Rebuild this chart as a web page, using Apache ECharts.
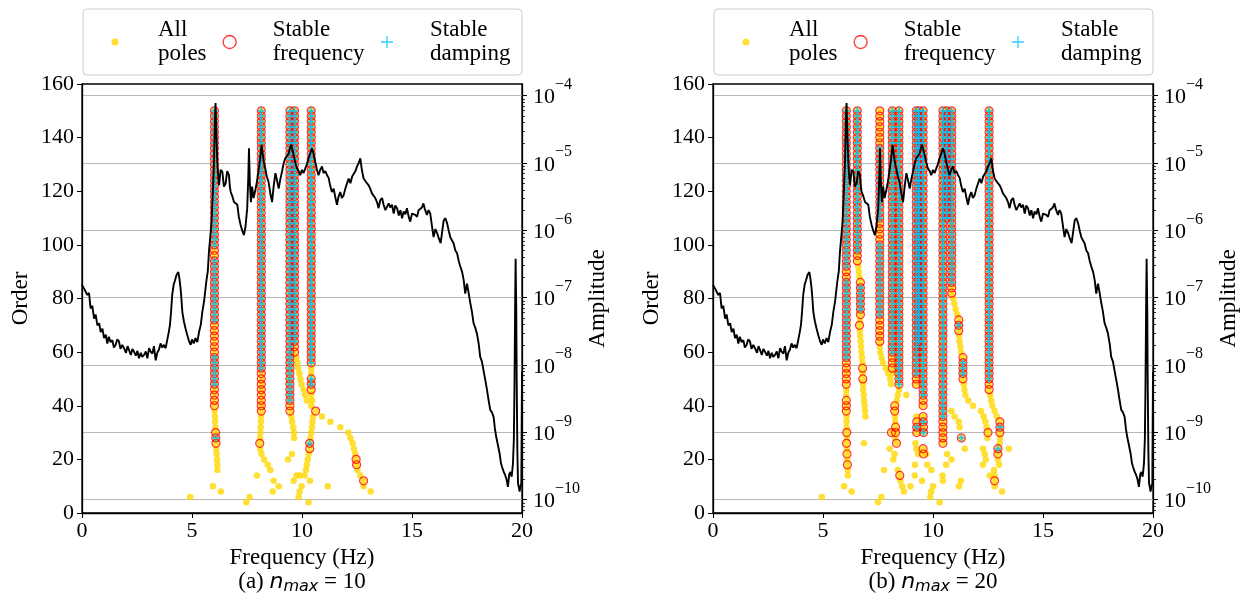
<!DOCTYPE html>
<html>
<head>
<meta charset="utf-8">
<script src="https://cdn.jsdelivr.net/npm/echarts@6/dist/echarts.min.js"></script>
<style>
  html, body { margin: 0; padding: 0; background: #fff; }
  #main { width: 1246px; height: 595px; }
</style>
</head>
<body>
<div id="main"></div>
<script>
// amplitude spectrum (shared by both panels): frequency in Hz, log10 of amplitude
var specFreq = [0.00,0.12,0.24,0.32,0.39,0.47,0.55,0.62,0.70,0.78,0.85,0.93,1.00,1.08,1.15,1.22,1.30,1.38,1.45,1.53,
  1.60,1.68,1.75,1.83,1.91,2.00,2.07,2.14,2.22,2.29,2.36,2.45,2.52,2.59,2.67,2.74,2.82,2.90,2.97,3.05,
  3.12,3.20,3.27,3.35,3.42,3.50,3.57,3.65,3.72,3.80,3.88,3.95,4.00,4.05,4.10,4.17,4.23,4.30,4.38,4.43,
  4.48,4.52,4.56,4.63,4.71,4.78,4.86,4.94,5.00,5.08,5.16,5.24,5.32,5.40,5.47,5.55,5.65,5.72,5.77,5.83,
  5.89,5.95,6.00,6.04,6.07,6.11,6.15,6.19,6.23,6.30,6.38,6.45,6.53,6.60,6.68,6.72,6.76,6.84,6.91,6.98,
  7.06,7.13,7.21,7.28,7.36,7.43,7.51,7.56,7.59,7.63,7.68,7.73,7.80,7.88,7.95,8.02,8.10,8.16,8.21,8.27,
  8.33,8.40,8.48,8.56,8.64,8.71,8.79,8.86,8.94,9.01,9.09,9.17,9.24,9.32,9.39,9.45,9.50,9.56,9.62,9.70,
  9.77,9.85,9.92,10.00,10.07,10.15,10.22,10.30,10.38,10.45,10.52,10.60,10.68,10.75,10.83,10.91,10.98,11.06,11.14,11.21,
  11.29,11.36,11.44,11.51,11.59,11.66,11.74,11.81,11.89,11.97,12.05,12.12,12.20,12.28,12.35,12.43,12.50,12.58,12.65,12.72,
  12.80,12.88,12.95,13.03,13.10,13.18,13.26,13.33,13.41,13.48,13.56,13.64,13.71,13.79,13.86,13.94,14.01,14.09,14.17,14.24,
  14.32,14.40,14.47,14.55,14.62,14.70,14.77,14.85,14.92,15.00,15.07,15.15,15.23,15.30,15.38,15.45,15.52,15.58,15.68,15.75,
  15.83,15.90,15.98,16.06,16.14,16.22,16.30,16.36,16.44,16.52,16.60,16.68,16.74,16.82,16.89,16.97,17.05,17.12,17.20,17.28,
  17.35,17.42,17.50,17.57,17.65,17.72,17.80,17.88,17.95,18.03,18.10,18.18,18.25,18.33,18.41,18.48,18.56,18.63,18.71,18.77,
  18.83,18.90,18.98,19.04,19.09,19.16,19.24,19.30,19.36,19.42,19.47,19.53,19.59,19.63,19.66,19.69,19.71,19.74,19.76,19.79,
  19.82,19.86,19.89,19.93,19.97,20.00];
var specLogAmp = [-6.81,-6.88,-6.96,-6.93,-7.16,-7.12,-7.31,-7.25,-7.41,-7.38,-7.51,-7.46,-7.60,-7.55,-7.68,-7.58,-7.66,-7.63,-7.74,-7.70,
  -7.62,-7.65,-7.76,-7.70,-7.75,-7.82,-7.72,-7.78,-7.85,-7.76,-7.80,-7.86,-7.79,-7.90,-7.82,-7.88,-7.85,-7.80,-7.90,-7.75,
  -7.80,-7.83,-7.72,-7.93,-7.82,-7.77,-7.68,-7.74,-7.70,-7.75,-7.62,-7.50,-7.40,-7.20,-6.96,-6.80,-6.74,-6.66,-6.62,-6.72,
  -6.86,-7.02,-7.21,-7.35,-7.46,-7.55,-7.64,-7.70,-7.62,-7.68,-7.60,-7.66,-7.51,-7.40,-7.21,-7.05,-6.76,-6.60,-6.32,-6.10,
  -5.87,-5.40,-4.98,-4.40,-4.11,-4.60,-4.98,-5.20,-5.33,-5.10,-5.13,-5.35,-5.30,-5.12,-5.18,-5.35,-5.43,-5.50,-5.58,-5.56,
  -5.62,-5.80,-5.92,-6.00,-6.07,-5.95,-5.67,-5.20,-4.78,-5.30,-5.58,-5.35,-5.52,-5.40,-5.28,-5.12,-4.93,-4.73,-4.85,-5.00,
  -5.08,-5.20,-5.28,-5.45,-5.58,-5.35,-5.15,-5.25,-5.38,-5.25,-5.13,-5.00,-4.93,-4.92,-4.86,-4.78,-4.73,-4.80,-4.88,-5.00,
  -5.08,-5.12,-5.18,-5.10,-5.15,-5.08,-5.02,-4.93,-4.85,-4.78,-4.85,-4.98,-5.10,-5.18,-5.10,-5.05,-5.15,-5.12,-5.18,-5.22,
  -5.35,-5.43,-5.38,-5.50,-5.62,-5.50,-5.43,-5.52,-5.48,-5.38,-5.30,-5.23,-5.30,-5.20,-5.18,-5.12,-5.05,-5.00,-4.93,-5.10,
  -5.23,-5.25,-5.30,-5.33,-5.38,-5.45,-5.43,-5.52,-5.58,-5.67,-5.55,-5.52,-5.62,-5.70,-5.72,-5.60,-5.66,-5.62,-5.75,-5.63,
  -5.67,-5.78,-5.70,-5.82,-5.72,-5.76,-5.67,-5.80,-5.87,-5.75,-5.75,-5.77,-5.80,-5.70,-5.72,-5.66,-5.60,-5.68,-5.77,-5.70,
  -5.75,-5.92,-6.10,-5.98,-6.04,-6.12,-6.19,-6.05,-5.85,-5.82,-5.90,-6.02,-6.10,-6.15,-6.19,-6.30,-6.34,-6.45,-6.54,-6.62,
  -6.74,-6.94,-6.79,-6.92,-7.08,-7.20,-7.38,-7.45,-7.53,-7.68,-7.88,-7.95,-8.08,-8.22,-8.37,-8.52,-8.67,-8.70,-8.77,-8.95,
  -9.07,-9.18,-9.31,-9.45,-9.51,-9.58,-9.64,-9.70,-9.81,-9.62,-9.59,-9.66,-9.46,-9.10,-8.27,-7.00,-6.42,-7.20,-8.27,-9.30,
  -9.76,-9.82,-9.88,-9.80,-9.76,-8.10];

// stabilization diagram, panel (a) n_max = 10
// runs: [frequency, first order, last order], one pole at every order step in between
var allRunsA = [[6.02,40,150],[8.15,38,150],[9.45,38,150],[9.66,60,150],[10.42,44,150]];
var allPointsA = [
  [6.03,38],[6.04,36],[6.05,34],[6.06,32],[6.07,30],[6.08,28],[6.09,26],[6.10,24],[6.12,22],[6.14,20],[6.15,18],[6.16,16],
  [5.95,10],[6.31,8],[4.92,6],
  [8.14,36],[8.13,34],[8.12,32],[8.11,30],[8.10,28],[8.08,26],[8.10,24],[8.16,22],[8.28,20],[8.44,18],[8.56,16],[7.95,14],
  [8.71,12],[8.94,10],[8.67,8],[7.62,6],[7.47,4],
  [9.52,36],[9.55,34],[9.60,32],[9.63,30],[9.64,28],[9.54,22],[9.36,20],[9.75,14],[9.90,14],[9.62,12],[10.36,12],[9.98,10],
  [9.89,8],[9.85,6],[10.30,4],
  [9.74,58],[9.78,56],[9.82,54],[9.88,52],[9.93,50],[9.98,48],[10.07,46],[10.14,44],[10.22,42],[10.42,40],[10.62,38],
  [10.91,36],[11.29,34],[11.74,32],[12.10,30],[12.20,28],[12.30,26],[12.36,24],[12.42,22],[12.46,20],[12.48,18],[12.52,16],
  [12.65,14],[12.80,12],[12.80,10],[13.12,8],
  [10.46,42],[10.50,36],[10.48,34],[10.45,32],[10.42,30],[10.38,28],[10.35,26],[10.35,24],[10.30,22],[10.26,20],[10.22,18],
  [10.18,16],[10.12,14],[11.17,10]
];
var freqRunsA = [[6.02,40,150],[8.15,38,150],[9.45,38,150],[9.66,60,150],[10.42,56,150],[10.42,46,50]];
var freqPointsA = [[6.07,30],[6.08,28],[6.09,26],[8.08,26],[10.62,38],[10.35,26],[10.35,24],[12.46,20],[12.48,18],[12.80,12]];
var dampRunsA = [[6.02,100,150],[6.02,72,94],[6.02,48,58],[8.15,54,150],[9.45,42,150],[9.66,64,150],[10.42,56,150],[10.42,48,50]];
var dampPointsA = [[6.08,28],[10.35,26]];

// stabilization diagram, panel (b) n_max = 20
var allRunsB = [[6.06,38,150],[6.56,94,150],[6.70,74,86],[7.58,62,150],[8.15,52,150],[8.45,46,150],[9.24,48,150],
  [9.36,60,150],[9.55,40,150],[10.45,26,150],[10.62,110,150],[10.85,82,150],[11.17,68,72],[11.36,50,58],[12.55,46,150]];
var allPointsB = [
  [6.07,36],[6.07,34],[6.07,32],[6.08,30],[6.08,28],[6.07,26],[6.08,24],[6.09,22],[6.10,20],[6.11,18],[6.12,16],[6.13,14],
  [5.96,10],[6.30,8],[4.94,6],
  [6.60,92],[6.63,90],[6.66,88],[6.68,72],[6.66,70],[6.67,68],[6.69,66],[6.71,64],[6.73,62],[6.75,60],[6.77,58],[6.79,56],
  [6.80,54],[6.80,52],[6.81,50],[6.82,48],[6.83,46],[6.85,44],[6.87,42],[6.89,40],[6.91,38],[6.93,36],[6.86,26],
  [7.61,60],[7.66,58],[7.73,56],[7.85,54],[7.96,52],[8.05,50],[8.10,48],
  [8.40,44],[8.35,42],[8.26,40],[8.26,38],[8.27,36],[8.28,34],[8.30,32],[8.11,30],[8.30,30],[8.28,28],[8.34,26],[8.03,24],
  [8.25,22],[8.20,20],[8.40,16],[8.49,14],[8.52,12],[8.60,10],[8.68,8],[8.79,44],[7.77,16],[7.65,6],[7.50,4],[8.97,10],[9.17,14],
  [9.25,36],[9.26,34],[9.26,32],[9.26,30],[9.55,36],[9.56,34],[9.57,32],[9.57,30],[9.20,26],[9.24,24],[9.32,22],[9.18,18],
  [9.50,12],[9.55,24],[9.57,22],[9.70,22],[9.74,18],[9.93,16],[10.00,10],[9.92,8],[9.88,6],[10.30,4],
  [10.43,14],[10.45,12],[10.64,22],[10.84,20],[10.60,18],
  [10.92,80],[10.97,78],[11.03,76],[11.10,74],[11.19,66],[11.21,64],[11.24,62],[11.28,60],[11.40,48],[11.43,46],[11.47,44],
  [11.60,42],[11.82,40],[12.18,38],[12.30,36],[12.38,34],[12.44,32],[12.50,30],[12.47,28],[12.27,24],[12.35,22],[12.40,20],
  [12.27,18],[12.77,16],[12.58,14],
  [10.84,38],[10.98,36],[11.17,34],[11.21,32],[11.29,28],[11.44,24],[11.18,10],[11.27,12],
  [12.60,44],[12.64,42],[12.70,40],[12.80,38],[12.90,36],[13.04,34],[13.04,32],[13.04,30],[13.05,28],[13.03,26],[12.95,24],
  [12.95,22],[12.95,20],[13.00,18],[12.80,14],[12.80,12],[12.80,10],[13.14,8],[13.45,24]
];
var freqRunsB = [[6.06,48,150],[6.06,38,42],[6.56,94,150],[6.70,74,86],[7.58,64,150],[8.15,54,150],[8.45,48,150],
  [9.24,48,150],[9.36,60,150],[9.55,40,150],[10.45,26,150],[10.62,110,150],[10.85,82,150],[11.17,68,72],[11.36,50,58],[12.55,46,150]];
var freqPointsB = [[6.08,30],[6.07,26],[6.09,22],[6.11,18],[6.66,70],[6.80,54],[6.81,50],[8.26,40],[8.26,38],[8.30,32],
  [8.11,30],[8.30,30],[8.34,26],[8.49,14],[9.26,34],[9.26,32],[9.26,30],[9.55,36],[9.56,34],[9.57,32],[9.57,30],[9.55,24],
  [9.57,22],[11.29,28],[12.50,30],[13.04,34],[13.04,32],[13.04,30],[12.95,24],[12.95,22],[12.80,12]];
var dampRunsB = [[6.06,92,150],[6.06,58,86],[6.56,98,150],[6.70,76,84],[7.58,110,136],[7.58,74,100],[8.15,60,150],
  [8.45,48,150],[9.24,52,150],[9.36,64,150],[9.55,44,150],[10.45,36,150],[10.62,110,150],[10.85,86,150],[11.36,52,56],[12.55,50,150]];
var dampPointsB = [[11.17,70],[9.26,32],[9.56,34],[9.57,30],[11.29,28],[13.04,32],[12.95,24]];

var ampTicks = [-10, -9, -8, -7, -6, -5, -4];
var captions = [['(a) ', '10'], ['(b) ', '20']];
var names = ['All\npoles', 'Stable\nfrequency', 'Stable\ndamping'];

var ORDER_STEP = 2;
var AMP_MIN = -10.198, AMP_MAX = -3.826;
var FONT = "'Liberation Serif', 'Times New Roman', serif";
var MATH = "'DejaVu Sans', sans-serif";
var PLUS = 'path://M3.7,0H6.3V3.7H10V6.3H6.3V10H3.7V6.3H0V3.7H3.7Z';
var PLUS_THIN = 'path://M4.45,0H5.55V4.45H10V5.55H5.55V10H4.45V5.55H0V4.45H4.45Z';
var GRID_LEFT = [82, 713];

function expand(runs) {
  var out = [];
  runs.forEach(function (r) {
    for (var n = r[1]; n <= r[2]; n += ORDER_STEP) out.push([r[0], n]);
  });
  return out;
}

var minorTicks = [];
for (var e = -11; e <= -4; e++) {
  for (var k = 2; k <= 9; k++) {
    var v = e + Math.log10(k);
    if (v > AMP_MIN && v < AMP_MAX) minorTicks.push(v);
  }
}

var spectrum = specFreq.map(function (f, i) { return [f, specLogAmp[i]]; });

function freqAxis(g) {
  return {
    type: 'value', gridIndex: g, min: 0, max: 20, interval: 5,
    name: 'Frequency (Hz)', nameLocation: 'middle', nameGap: 31,
    nameTextStyle: { fontFamily: FONT, fontSize: 23, color: '#000' },
    axisLine: { show: true, lineStyle: { color: '#000', width: 1.3 } },
    axisTick: { show: true, inside: false, length: 5, lineStyle: { color: '#000', width: 1 } },
    axisLabel: { fontFamily: FONT, fontSize: 22, color: '#000', margin: 7 },
    splitLine: { show: false }
  };
}

function orderAxis(g) {
  return {
    type: 'value', gridIndex: g, position: 'left', min: 0, max: 160, interval: 20,
    name: 'Order', nameLocation: 'middle', nameGap: 50,
    nameTextStyle: { fontFamily: FONT, fontSize: 23, color: '#000' },
    axisLine: { show: true, lineStyle: { color: '#000', width: 1.3 } },
    axisTick: { show: true, inside: false, length: 5, lineStyle: { color: '#000', width: 1 } },
    axisLabel: { fontFamily: FONT, fontSize: 22, color: '#000', margin: 8 },
    splitLine: { show: false }
  };
}

function ampAxis(g) {
  return {
    type: 'value', gridIndex: g, position: 'right', min: AMP_MIN, max: AMP_MAX,
    name: 'Amplitude', nameLocation: 'middle', nameRotate: 90, nameGap: 64,
    nameTextStyle: { fontFamily: FONT, fontSize: 23, color: '#000' },
    axisLine: { show: true, lineStyle: { color: '#000', width: 1.3 } },
    axisTick: { show: true, inside: false, length: 5, customValues: ampTicks, lineStyle: { color: '#000', width: 1 } },
    axisLabel: {
      customValues: ampTicks, margin: 11,
      formatter: function (val) { return '{b|10}{s|\u2212' + Math.round(-val) + '}'; },
      rich: {
        b: { fontFamily: FONT, fontSize: 22, color: '#000', padding: [4, 0, 0, 0] },
        s: { fontFamily: FONT, fontSize: 16, color: '#000', padding: [0, 0, 22, 0] }
      }
    },
    splitLine: { show: true, lineStyle: { color: '#b8b8b8', width: 1 } }
  };
}

function minorAxis(g) {
  return {
    type: 'value', gridIndex: g, position: 'right', min: AMP_MIN, max: AMP_MAX,
    axisLine: { show: false },
    axisTick: { show: true, inside: false, length: 3, customValues: minorTicks, lineStyle: { color: '#000', width: 0.8 } },
    axisLabel: { show: false },
    splitLine: { show: false }
  };
}

function panelSeries(p, allRuns, allPoints, freqRuns, freqPoints, dampRuns, dampPoints) {
  return [
    {
      name: names[0], type: 'scatter', xAxisIndex: p, yAxisIndex: 3 * p,
      data: expand(allRuns).concat(allPoints), symbol: 'circle', symbolSize: 6.5,
      itemStyle: { color: '#FFD700' }, z: 2, silent: true
    },
    {
      name: names[1], type: 'scatter', xAxisIndex: p, yAxisIndex: 3 * p,
      data: expand(freqRuns).concat(freqPoints), symbol: 'circle', symbolSize: 8,
      itemStyle: { color: 'rgba(0,0,0,0)', borderColor: '#FF0000', borderWidth: 1.2 }, z: 3, silent: true
    },
    {
      name: names[2], type: 'scatter', xAxisIndex: p, yAxisIndex: 3 * p,
      data: expand(dampRuns).concat(dampPoints), symbol: PLUS, symbolSize: 7,
      itemStyle: { color: '#00BFFF' }, z: 4, silent: true
    },
    {
      name: 'Amplitude', type: 'line', xAxisIndex: p, yAxisIndex: 3 * p + 1,
      data: spectrum, showSymbol: false, symbol: 'none',
      lineStyle: { color: '#000', width: 1.9 }, z: 5, silent: true
    }
  ];
}

var LEG_W = 76;
function legendFor(name, cx, size, icon, style) {
  return {
    data: [{ name: name, icon: icon, itemStyle: style }],
    left: cx - size / 2, top: 18, padding: 0, itemGap: 0,
    itemWidth: LEG_W, itemHeight: size, selectedMode: false,
    textStyle: { fontFamily: FONT, fontSize: 23, lineHeight: 24, color: '#000' }
  };
}

var legends = [];
var graphics = [];
[0, 631].forEach(function (dx, p) {
  legends.push(legendFor(names[0], 115 + dx, 7, 'circle', { color: '#FFD700' }));
  legends.push(legendFor(names[1], 229 + dx, 13, 'circle',
    { color: 'rgba(0,0,0,0)', borderColor: '#FF0000', borderWidth: 1.3 }));
  legends.push(legendFor(names[2], 387 + dx, 12, PLUS_THIN, { color: '#00BFFF' }));
  graphics.push({
    type: 'rect', z: -1,
    shape: { x: 83 + dx, y: 9, width: 439, height: 66, r: 4 },
    style: { fill: '#fff', stroke: '#cccccc', lineWidth: 1 }
  });
  graphics.push({
    type: 'text', x: GRID_LEFT[p] + 220, y: 582,
    style: {
      text: '{r|' + captions[p][0] + '}{i|n}{sub|max}{r| = ' + captions[p][1] + '}',
      align: 'center', verticalAlign: 'middle',
      rich: {
        r: { fontFamily: FONT, fontSize: 23, fill: '#000' },
        i: { fontFamily: MATH, fontStyle: 'italic', fontSize: 22, fill: '#000' },
        sub: { fontFamily: MATH, fontStyle: 'italic', fontSize: 16, fill: '#000', padding: [10, 0, 0, 0] }
      }
    }
  });
});

var chart = echarts.init(document.getElementById('main'));
chart.setOption({
  animation: false,
  backgroundColor: '#fff',
  grid: GRID_LEFT.map(function (l) {
    return { left: l, top: 84, width: 440, height: 429, show: true, borderColor: '#000', borderWidth: 1.3, backgroundColor: 'rgba(0,0,0,0)' };
  }),
  xAxis: [freqAxis(0), freqAxis(1)],
  yAxis: [orderAxis(0), ampAxis(0), minorAxis(0), orderAxis(1), ampAxis(1), minorAxis(1)],
  legend: legends,
  graphic: graphics,
  series: panelSeries(0, allRunsA, allPointsA, freqRunsA, freqPointsA, dampRunsA, dampPointsA)
    .concat(panelSeries(1, allRunsB, allPointsB, freqRunsB, freqPointsB, dampRunsB, dampPointsB))
});
</script>
</body>
</html>
